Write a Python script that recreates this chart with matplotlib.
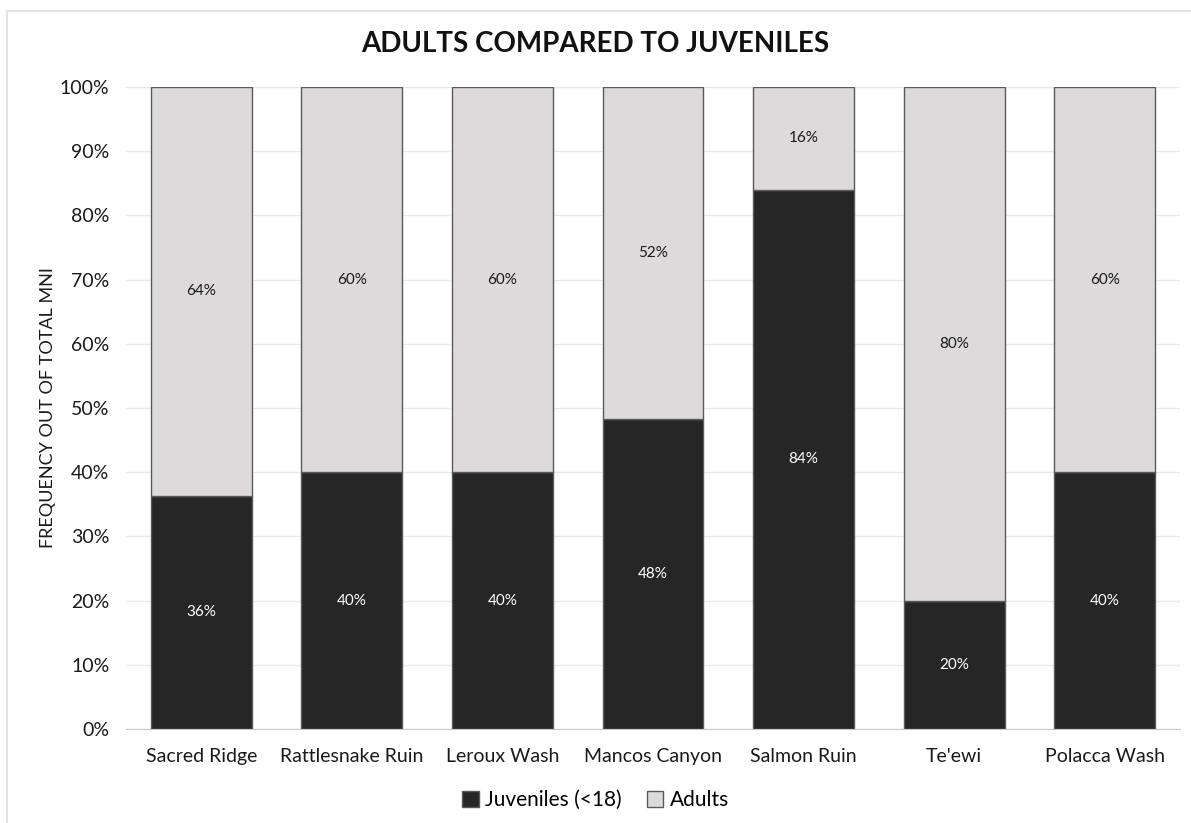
import matplotlib
matplotlib.use("Agg")
import matplotlib.pyplot as plt
from matplotlib.patches import Rectangle
import numpy as np

plt.rcParams['font.family'] = ['Lato', 'DejaVu Sans']

sites = ["Sacred Ridge", "Rattlesnake Ruin", "Leroux Wash", "Mancos Canyon",
         "Salmon Ruin", "Te'ewi", "Polacca Wash"]
juveniles = [36.36, 40.0, 40.0, 48.28, 84.0, 20.0, 40.0]
adults = [63.64, 60.0, 60.0, 51.72, 16.0, 80.0, 60.0]
yticks = [0, 10, 20, 30, 40, 50, 60, 70, 80, 90, 100]

DARK = "#262626"
LIGHT = "#dcdadb"
EDGE = "#5a5a5a"

fig = plt.figure(figsize=(11.91, 8.23), dpi=100)
ax = fig.add_axes([0.1058, 0.1142, 0.885, 0.7801])

# light frame around the chart area
fig.patches.append(Rectangle((7 / 1191, -0.02), 1.02, 1 - 11 / 823 + 0.02,
                             transform=fig.transFigure, fill=False,
                             edgecolor="#e3e3e3", linewidth=1.5))

x = np.arange(len(sites))
w = 0.67
b1 = ax.bar(x, juveniles, w, color=DARK, edgecolor=EDGE, linewidth=1,
            label="Juveniles (<18)", zorder=3)
b2 = ax.bar(x, adults, w, bottom=juveniles, color=LIGHT, edgecolor=EDGE,
            linewidth=1, label="Adults", zorder=3)

for i in range(len(sites)):
    ax.text(x[i], juveniles[i] / 2, f"{round(juveniles[i])}%", ha="center",
            va="center", color="white", fontsize=11, zorder=4)
    ax.text(x[i], juveniles[i] + adults[i] / 2, f"{round(adults[i])}%",
            ha="center", va="center", color="#1a1a1a", fontsize=11, zorder=4)

ax.set_xlim(-0.5, len(sites) - 0.5)
ax.set_ylim(0, 100)
ax.set_yticks(yticks)
ax.set_yticklabels([f"{t}%" for t in yticks], fontsize=14, color="#1a1a1a")
ax.set_xticks(x)
ax.set_xticklabels(sites, fontsize=14, color="#1a1a1a")
ax.tick_params(axis="x", length=0, pad=14)
ax.tick_params(axis="y", length=0, pad=12)
ax.grid(axis="y", color="#e8e8e8", linewidth=1, zorder=0)
for s in ["top", "right", "left"]:
    ax.spines[s].set_visible(False)
ax.spines["bottom"].set_color("#c8c8c8")
ax.spines["bottom"].set_zorder(5)

ax.set_ylabel("FREQUENCY OUT OF TOTAL MNI", fontsize=13, color="#1a1a1a",
              labelpad=3)
fig.text(0.5, 0.946, "ADULTS COMPARED TO JUVENILES", ha="center", va="center",
         fontsize=20, fontweight="bold", color="#111111")

fig.legend(handles=[b1, b2], loc="center", bbox_to_anchor=(0.5, 0.028),
           ncol=2, frameon=False, fontsize=15, handlelength=0.8,
           handleheight=0.8, handletextpad=0.3, columnspacing=1.2)

fig.savefig("out.png", dpi=100)
